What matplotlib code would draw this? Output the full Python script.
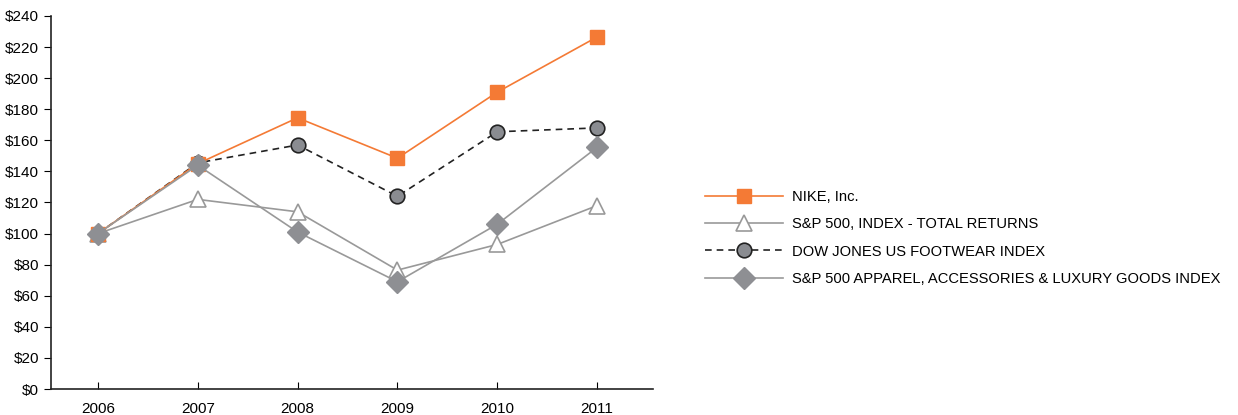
import matplotlib
matplotlib.use('Agg')
import matplotlib.pyplot as plt
from matplotlib.ticker import FuncFormatter

plt.rcParams['font.family'] = ['Liberation Sans', 'DejaVu Sans']

years = [2006, 2007, 2008, 2009, 2010, 2011]
nike = [100, 145, 174.5, 148.5, 191, 226.5]
sp500 = [100, 122, 114, 76.5, 93, 118]
dj_footwear = [100, 145.5, 157, 124, 165.5, 168]
sp_apparel = [100, 144, 101, 69, 106, 155.5]
labels = ['NIKE, Inc.', 'S&P 500, INDEX - TOTAL RETURNS',
          'DOW JONES US FOOTWEAR INDEX',
          'S&P 500 APPAREL, ACCESSORIES & LUXURY GOODS INDEX']

fig = plt.figure(figsize=(12.38, 4.15), dpi=100)
ax = fig.add_axes([51 / 1238, 1 - 389 / 415, 602 / 1238, 373 / 415])

grey = '#999999'
ax.plot(years, nike, color='#f47a35', lw=1.2, marker='s', ms=10,
        mfc='#f47a35', mec='#f47a35', label=labels[0], zorder=4)
ax.plot(years, sp500, color=grey, lw=1.2, marker='^', ms=12,
        mfc='white', mec=grey, mew=1.2, label=labels[1], zorder=3)
ax.plot(years, dj_footwear, color='#222222', lw=1.2, ls=(0, (4, 3)),
        marker='o', ms=10.5, mfc='#8a8c91', mec='#222222', mew=1.2,
        label=labels[2], zorder=3)
ax.plot(years, sp_apparel, color=grey, lw=1.2, marker='D', ms=11.5,
        mfc='#8e8f93', mec='#8e8f93', label=labels[3], zorder=5)

ax.set_xlim(2005.53, 2011.56)
ax.set_ylim(0, 240)
ax.set_yticks(range(0, 241, 20))
ax.yaxis.set_major_formatter(FuncFormatter(lambda v, p: '$%d' % v))
ax.set_xticks(years)
ax.tick_params(axis='x', direction='in', length=5, labelsize=11, pad=9)
ax.tick_params(axis='y', direction='out', length=5, labelsize=11)
for s in ['top', 'right']:
    ax.spines[s].set_visible(False)
for s in ['left', 'bottom']:
    ax.spines[s].set_linewidth(1.2)
    ax.spines[s].set_color('#222222')

ax.legend(loc='center left', bbox_to_anchor=((705 - 51) / 602, (389 - 238) / 373),
          frameon=False, fontsize=10.6, handlelength=5.3, labelspacing=0.9,
          handletextpad=0.6, borderaxespad=0, borderpad=0)

fig.savefig('out.png', dpi=100)
